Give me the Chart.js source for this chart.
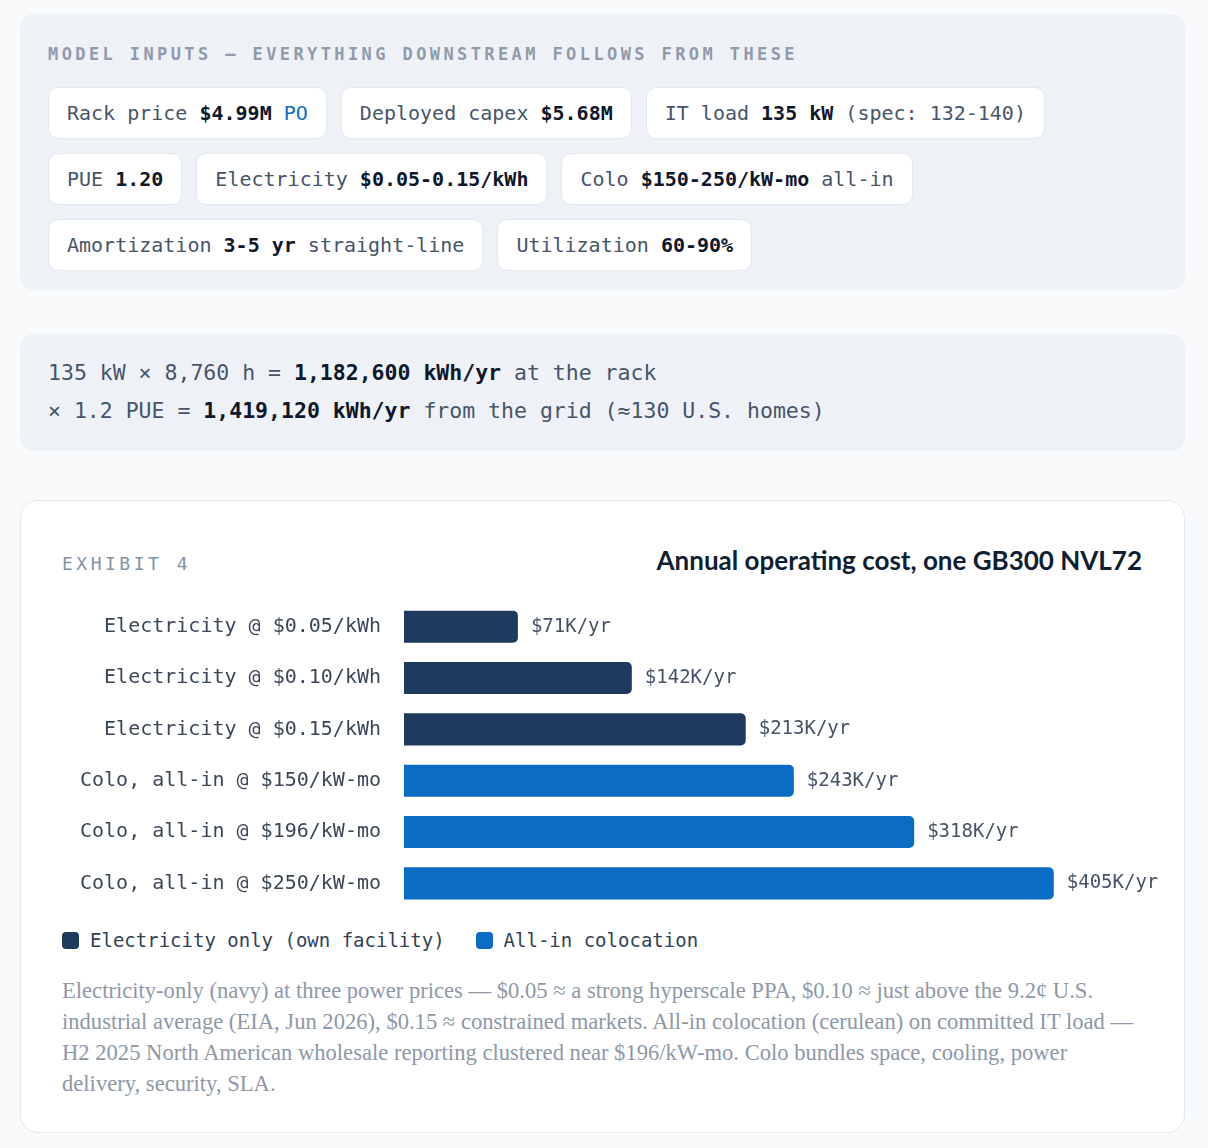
<!DOCTYPE html>
<html>
<head>
<meta charset="utf-8">
<script src="https://cdn.jsdelivr.net/npm/chart.js@4.4.1/dist/chart.umd.min.js"></script>
<style>
  body { margin: 0; background: #f8fafc; font-family: "DejaVu Sans Mono", monospace; }
  .wrap { width: 1165px; margin: 14px 0 0 20px; }
  .inputs { background: #eef2f7; border-radius: 14px; padding: 28px 28px 19px 28px; }
  .kicker { font-size: 17px; font-weight: bold; letter-spacing: 3.4px; color: #8f9aab; line-height: 24px; margin-bottom: 21px; }
  .row { display: flex; gap: 14px; margin-bottom: 14px; }
  .row:last-child { margin-bottom: 0; }
  .chip { background: #fff; border: 1px solid #e2e8f0; border-radius: 10px; padding: 13px 18px; font-size: 20px; line-height: 24px; color: #475569; white-space: nowrap; }
  .chip b { color: #0f172a; }
  .chip .po { color: #0b6fc4; }
  .calc { background: #eef2f7; border-radius: 14px; margin-top: 44px; padding: 20px 28px 21px 28px; font-size: 21.5px; line-height: 38px; color: #475569; }
  .calc b { color: #0f172a; }
  .card { background: #fff; border: 1px solid #e2e8f0; border-radius: 18px; margin-top: 49px; padding: 41px 42px 33px 41px; }
  .head { display: flex; justify-content: space-between; align-items: center; height: 36px; }
  .exhibit { font-size: 18px; letter-spacing: 3.5px; color: #8493a6; margin-top: 6px; }
  .title { font-family: Lato, sans-serif; font-weight: bold; font-size: 26px; color: #0f1f33; }
  .chartbox { position: relative; width: 1108px; height: 308px; margin-top: 23px; }
  .legend { display: flex; align-items: center; margin-top: 19px; font-size: 19px; color: #334155; line-height: 24px; }
  .legend span.sw { display: inline-block; width: 17px; height: 17px; border-radius: 4px; margin-right: 11px; }
  .legend .item { display: flex; align-items: center; margin-right: 31px; }
  .note { font-family: "Liberation Serif", serif; font-size: 22.6px; line-height: 31px; color: #8e98a7; margin-top: 23px; white-space: nowrap; }
</style>
</head>
<body>
<div class="wrap">
  <div class="inputs">
    <div class="kicker">MODEL INPUTS — EVERYTHING DOWNSTREAM FOLLOWS FROM THESE</div>
    <div class="row">
      <div class="chip">Rack price <b>$4.99M</b> <span class="po">PO</span></div>
      <div class="chip">Deployed capex <b>$5.68M</b></div>
      <div class="chip">IT load <b>135 kW</b> (spec: 132-140)</div>
    </div>
    <div class="row">
      <div class="chip">PUE <b>1.20</b></div>
      <div class="chip">Electricity <b>$0.05-0.15/kWh</b></div>
      <div class="chip">Colo <b>$150-250/kW-mo</b> all-in</div>
    </div>
    <div class="row">
      <div class="chip">Amortization <b>3-5 yr</b> straight-line</div>
      <div class="chip">Utilization <b>60-90%</b></div>
    </div>
  </div>

  <div class="calc">
    135 kW × 8,760 h = <b>1,182,600 kWh/yr</b> at the rack<br>
    × 1.2 PUE = <b>1,419,120 kWh/yr</b> from the grid (≈130 U.S. homes)
  </div>

  <div class="card">
    <div class="head">
      <div class="exhibit">EXHIBIT 4</div>
      <div class="title">Annual operating cost, one GB300 NVL72</div>
    </div>
    <div class="chartbox"><canvas id="costChart"></canvas></div>
    <div class="legend">
      <div class="item"><span class="sw" style="background:#1f3a5f"></span>Electricity only (own facility)</div>
      <div class="item"><span class="sw" style="background:#0a6cc4"></span>All-in colocation</div>
    </div>
    <div class="note">
      Electricity-only (navy) at three power prices — $0.05 ≈ a strong hyperscale PPA, $0.10 ≈ just above the 9.2¢ U.S.<br>
      industrial average (EIA, Jun 2026), $0.15 ≈ constrained markets. All-in colocation (cerulean) on committed IT load —<br>
      H2 2025 North American wholesale reporting clustered near $196/kW-mo. Colo bundles space, cooling, power<br>
      delivery, security, SLA.
    </div>
  </div>
</div>

<script>
// chart data ($K per year)
const categories = [
  'Electricity @ $0.05/kWh',
  'Electricity @ $0.10/kWh',
  'Electricity @ $0.15/kWh',
  'Colo, all-in @ $150/kW-mo',
  'Colo, all-in @ $196/kW-mo',
  'Colo, all-in @ $250/kW-mo'
];
const costValues = [71, 142, 213, 243, 318, 405];
const groups = ['power', 'power', 'power', 'colo', 'colo', 'colo'];

const NAVY = '#1f3a5f';
const CERULEAN = '#0a6cc4';
const MONO = '"DejaVu Sans Mono", monospace';

// value labels at bar ends
const valueLabels = {
  id: 'valueLabels',
  afterDatasetsDraw(chart) {
    const ctx = chart.ctx;
    const meta = chart.getDatasetMeta(0);
    ctx.save();
    ctx.font = '19px ' + MONO;
    ctx.fillStyle = '#465366';
    ctx.textAlign = 'left';
    ctx.textBaseline = 'middle';
    meta.data.forEach((bar, i) => {
      ctx.fillText('$' + costValues[i] + 'K/yr', bar.x + 13, bar.y);
    });
    ctx.restore();
  }
};

const ctx = document.getElementById('costChart').getContext('2d');
new Chart(ctx, {
  type: 'bar',
  data: {
    labels: categories,
    datasets: [{
      data: costValues,
      backgroundColor: groups.map(g => g === 'power' ? NAVY : CERULEAN),
      borderRadius: 5,
      borderSkipped: 'start',
      categoryPercentage: 1,
      barPercentage: 0.625
    }]
  },
  options: {
    indexAxis: 'y',
    responsive: true,
    maintainAspectRatio: false,
    animation: false,
    layout: { padding: { left: 0, right: 28, top: 0, bottom: 0 } },
    plugins: {
      legend: { display: false },
      tooltip: { enabled: false }
    },
    scales: {
      x: { display: false, min: 0, max: 460 },
      y: {
        grid: { display: false, drawTicks: false },
        border: { display: false },
        ticks: {
          padding: 23,
          color: '#3b4758',
          font: { family: MONO, size: 20 }
        },
        afterFit: (scale) => {
          scale.width = 342;
          // tick padding should not shrink the plot vertically
          scale.paddingTop = 0;
          scale.paddingBottom = 0;
        }
      }
    }
  },
  plugins: [valueLabels]
});
</script>
</body>
</html>
